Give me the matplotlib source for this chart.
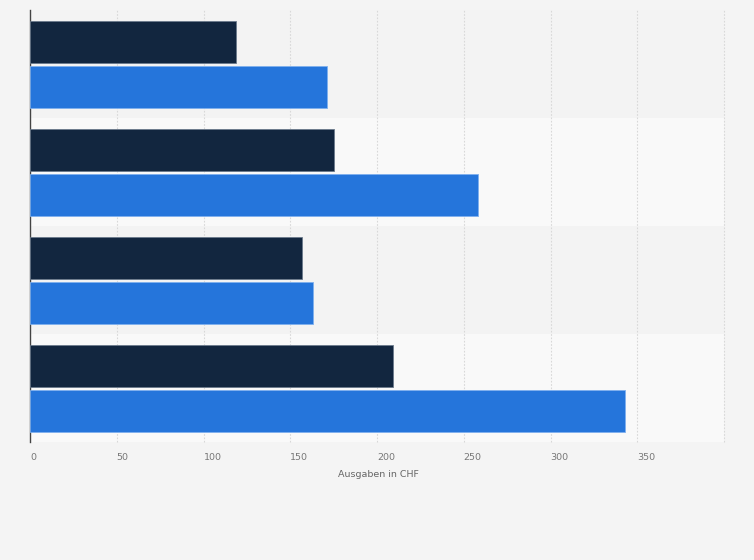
import matplotlib.pyplot as plt
import numpy as np

# values (CHF)
groups = ['1', '2', '3', '4']
series_dark = [119, 175, 157, 209]
series_blue = [171, 258, 163, 343]
xticks = [0, 50, 100, 150, 200, 250, 300, 350]

dark_color = '#12263f'
blue_color = '#2575db'

fig = plt.figure(figsize=(7.54, 5.6), dpi=100, facecolor='#f4f4f4')
ax = fig.add_axes([30 / 754, 1 - 442 / 560, 694 / 754, 432 / 560])
ax.set_facecolor('#f4f4f4')

n = len(groups)
pos = np.arange(n)

# alternating row bands
for i in pos:
    ax.axhspan(i - 0.5, i + 0.5, color='#f3f3f3' if i % 2 == 0 else '#f9f9f9', zorder=0, lw=0)

bar_h = 0.385
gap = 0.03
ax.barh(pos - bar_h / 2 - gap / 2 + 0.005, series_dark, height=bar_h, color=dark_color,
        edgecolor='#6b7a8c', linewidth=0.6, zorder=3)
ax.barh(pos + bar_h / 2 + gap / 2 + 0.005, series_blue, height=bar_h, color=blue_color,
        edgecolor='#7fb0ee', linewidth=0.6, zorder=3)

ax.set_ylim(n - 0.5, -0.5)
ax.set_xlim(0, 400)
ax.set_yticks([])
ax.set_xticks(xticks)
ax.set_xticklabels([str(t) for t in xticks], fontsize=6.8, color='#777777')
ax.tick_params(axis='x', length=0, pad=8)
for lbl in ax.get_xticklabels():
    lbl.set_horizontalalignment('left')

for t in xticks[1:] + [400]:
    ax.axvline(t, color='#d8d8d8', linestyle=(0, (1.5, 1.5)), linewidth=0.8, zorder=1, clip_on=False)

for side in ['top', 'right', 'bottom']:
    ax.spines[side].set_visible(False)
ax.spines['left'].set_color('#444444')
ax.spines['left'].set_linewidth(1.0)

ax.set_xlabel('Ausgaben in CHF', fontsize=6.8, color='#666666')
ax.xaxis.set_label_coords(348 / 694, -0.064)

fig.savefig('out.png', dpi=100, facecolor=fig.get_facecolor())
